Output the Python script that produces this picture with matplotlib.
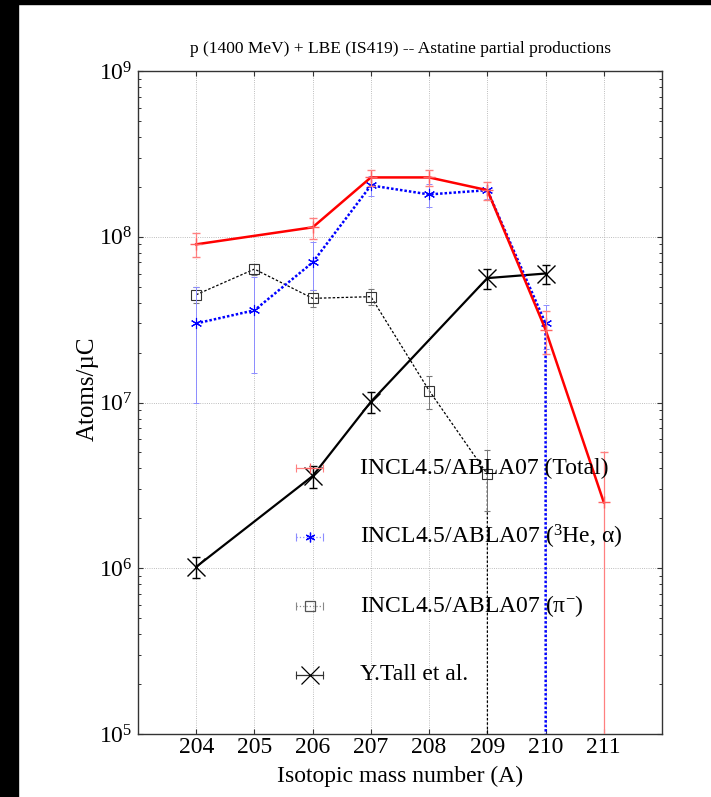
import numpy as np
import matplotlib.pyplot as plt
from matplotlib.patches import Rectangle
from matplotlib.ticker import LogLocator, LogFormatterMathtext, NullFormatter

plt.rcParams['font.family'] = ['Liberation Serif', 'DejaVu Serif']
plt.rcParams['mathtext.fontset'] = 'custom'
plt.rcParams['mathtext.rm'] = 'Liberation Serif'
plt.rcParams['mathtext.it'] = 'Liberation Serif:italic'

# INCL4.5/ABLA07, total astatine production
total_a = [204, 206, 207, 208, 209, 210, 211]
total_y = [9.0e7, 1.14e8, 2.28e8, 2.28e8, 1.91e8, 2.75e7, 2.5e6]
total_err = [1.5e7, 1.65e7, 2.6e7, 2.6e7, 2.4e7, 8.0e6, 2.5e6]

# INCL4.5/ABLA07, (3He, alpha) channel
he_a = [204, 205, 206, 207, 208, 209, 210, 211]
he_y = [3.0e7, 3.6e7, 7.0e7, 2.04e8, 1.80e8, 1.91e8, 3.0e7, 0]
he_err = [2.0e7, 2.1e7, 2.25e7, 2.9e7, 2.9e7, 2.3e7, 9.0e6, 0]

# INCL4.5/ABLA07, pi- channel
pi_a = [204, 205, 206, 207, 208, 209, 210]
pi_y = [4.47e7, 6.38e7, 4.25e7, 4.35e7, 1.18e7, 3.7e6, 0]
pi_err = [5e6, 5e6, 5e6, 5e6, 2.7e6, 1.5e6, 0]

# Y.Tall et al. measurements
tall_a = [204, 206, 207, 209, 210]
tall_y = [1.02e6, 3.6e6, 1.01e7, 5.63e7, 6.0e7]
tall_err = [1.5e5, 5.5e5, 1.5e6, 8e6, 8e6]

mass_ticks = [204, 205, 206, 207, 208, 209, 210, 211]

asterisk = (6, 2, 0)

fig = plt.figure(figsize=(7.11, 7.97), dpi=100)
ax = fig.add_axes([138 / 711, 1 - 734 / 797, 524 / 711, 663 / 797])
ax.set_yscale('log', nonpositive='clip')

# pi- channel
ax.plot(pi_a, pi_y, color='black', lw=0.9, ls=(0, (2, 1.5)), zorder=3)
ax.errorbar(pi_a, pi_y, yerr=pi_err, fmt='s', mfc='none', mec='#333333', ms=7, mew=0.8,
            ecolor='#777777', elinewidth=0.7, capsize=2.5, capthick=0.7, zorder=3)

# Tall measurements
ax.plot(tall_a, tall_y, color='black', lw=1.6, zorder=4)
ax.errorbar(tall_a, tall_y, yerr=tall_err, fmt='x', color='black', ms=13, mew=1.0,
            elinewidth=1.0, capsize=3, capthick=1.0, zorder=4)

# (3He, alpha) channel
ax.plot(he_a, he_y, color='blue', lw=1.8, ls=(0, (1, 0.8)), zorder=5)
ax.errorbar(he_a, he_y, yerr=he_err, fmt='none', ecolor='#8c8cff', elinewidth=0.7,
            capsize=2.5, capthick=0.7, zorder=5)
ax.plot(he_a, he_y, ls='none', marker=asterisk, color='blue', ms=8, mew=0.8, zorder=5)

# total production
ax.plot(total_a, total_y, color='red', lw=1.8, zorder=6)
ax.errorbar(total_a, total_y, yerr=total_err, fmt='+', color='#ff6060', ms=9, mew=1.0,
            ecolor='#ff8080', elinewidth=0.9, capsize=3, capthick=0.9, zorder=6)

ax.set_xlim(203, 212)
ax.set_ylim(1e5, 1e9)
ax.set_xticks(mass_ticks)
ax.set_xticklabels([str(a) for a in mass_ticks])
ax.yaxis.set_major_locator(LogLocator(base=10, numticks=10))
ax.yaxis.set_major_formatter(LogFormatterMathtext())
ax.yaxis.set_minor_locator(LogLocator(base=10, subs=np.arange(2, 10), numticks=20))
ax.yaxis.set_minor_formatter(NullFormatter())

ax.grid(True, which='major', color='#a8a8a8', lw=0.6, ls=':')
ax.tick_params(which='both', direction='in', top=True, right=True, labelsize=17, color='#333333')
ax.tick_params(which='major', length=3.5, width=0.8)
ax.tick_params(which='minor', length=2.2, width=0.7)
ax.tick_params(axis='x', pad=2)
ax.tick_params(axis='y', pad=4)
for s in ax.spines.values():
    s.set_color('#333333')
    s.set_linewidth(1.0)

ax.set_title('p (1400 MeV) + LBE (IS419) -- Astatine partial productions', fontsize=12.5, pad=13)
ax.set_xlabel('Isotopic mass number (A)', fontsize=17, labelpad=6)
ax.set_ylabel('Atoms/µC', fontsize=18)
ax.yaxis.set_label_coords(-0.075, 0.52)

# key drawn by hand: short line with end caps, marker in the middle
key_x0, key_x1, key_xm = 0.3015, 0.353, 0.328
text_x = 0.424
rows = [
    (0.401, '#ff8080', '-', '+', '#ff6060', 'INCL4.5/ABLA07 (Total)'),
    (0.297, '#8c8cff', ':', asterisk, 'blue', 'INCL4.5/ABLA07 ($^{3}$He, α)'),
    (0.193, '#888888', ':', 's', '#555555', 'INCL4.5/ABLA07 (π$^{-}$)'),
    (0.089, '#333333', '-', 'x', 'black', 'Y.Tall et al.'),
]
for ry, lc, ls, mk, mc, label in rows:
    ax.plot([key_x0, key_x1], [ry, ry], transform=ax.transAxes, color=lc, ls=ls, lw=0.9,
            marker='|', ms=6, mew=0.8, zorder=7, clip_on=False)
    ms = 13 if mk == 'x' else 7
    ax.plot([key_xm], [ry], transform=ax.transAxes, ls='none', marker=mk, color=mc, mfc='none',
            ms=ms, mew=0.9, zorder=7, clip_on=False)
    ax.text(text_x, ry, label, transform=ax.transAxes, fontsize=17, va='center', ha='left', zorder=8)

# black frame strips along the left and top edges
fig.add_artist(Rectangle((0, 0), 18 / 711, 1, transform=fig.transFigure, color='black', zorder=10))
fig.add_artist(Rectangle((0, 1 - 4 / 797), 1, 4 / 797, transform=fig.transFigure, color='black', zorder=10))

fig.savefig('out.png', dpi=100)
